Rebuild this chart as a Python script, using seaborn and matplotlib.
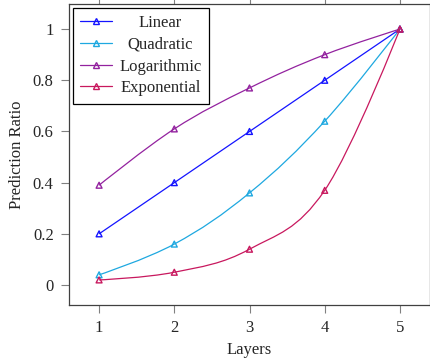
import numpy as np
import pandas as pd
import seaborn as sns
import matplotlib.pyplot as plt
from matplotlib.path import Path
from matplotlib.patches import PathPatch
from matplotlib.lines import Line2D

layers = [1, 2, 3, 4, 5]
linear = [0.2, 0.4, 0.6, 0.8, 1.0]
quadratic = [0.04, 0.16, 0.36, 0.64, 1.0]
logarithmic = [0.39, 0.61, 0.77, 0.90, 1.0]
exponential = [0.02, 0.05, 0.14, 0.37, 1.0]
names = ["Linear", "Quadratic", "Logarithmic", "Exponential"]
colors = ["#1414FF", "#1EA8E0", "#93229F", "#C8185E"]

df = pd.DataFrame({
    "Layers": layers * 4,
    "ratio": linear + quadratic + logarithmic + exponential,
    "curve": [n for n in names for _ in layers],
})

sns.set_style("ticks")
plt.rcParams["font.family"] = ["Liberation Serif", "DejaVu Serif"]

fig = plt.figure(figsize=(4.3, 3.58), dpi=100)
ax = fig.add_axes([69 / 430, 1 - 305 / 358, 361 / 430, 301 / 358])
ax.set_xlim(0.6, 5.4)
ax.set_ylim(-0.078, 1.098)


def smooth_path(xs, ys, tension=0.55):
    # pgfplots-like "smooth" curve, built in display space
    pts = ax.transData.transform(np.column_stack([xs, ys]))
    k = tension / 3
    verts = [pts[0]]
    codes = [Path.MOVETO]
    n = len(pts)
    for i in range(n - 1):
        p0 = pts[i]
        p1 = pts[i + 1]
        c1 = p0 if i == 0 else p0 + k * (pts[i + 1] - pts[i - 1])
        c2 = p1 if i == n - 2 else p1 - k * (pts[i + 2] - pts[i])
        verts += [c1, c2, p1]
        codes += [Path.CURVE4] * 3
    return Path(verts, codes)


for name, c in zip(names, colors):
    sub = df[df["curve"] == name]
    ax.add_patch(PathPatch(smooth_path(sub["Layers"].values, sub["ratio"].values),
                           transform=None, facecolor="none", edgecolor=c, lw=0.9))

sns.scatterplot(data=df, x="Layers", y="ratio", hue="curve", palette=colors,
                marker="^", s=18, linewidth=1.0, legend=False, ax=ax, zorder=3)
for coll in ax.collections:
    coll.set_facecolor("none")
    coll.set_edgecolor([colors[names.index(n)] for n in df["curve"]])

ax.set_xticks(layers)
ax.set_yticks([0, 0.2, 0.4, 0.6, 0.8, 1])
ax.set_yticklabels(["0", "0.2", "0.4", "0.6", "0.8", "1"])
ax.tick_params(direction="out", length=6, width=0.8, color="0.5", labelsize=12,
               top=True, right=True, pad=5)
for s in ax.spines.values():
    s.set_color("0.25")
    s.set_linewidth(0.9)
ax.set_xlabel("Layers", fontsize=12, labelpad=4)
ax.set_ylabel("Prediction Ratio", fontsize=12, labelpad=6)

handles = [Line2D([], [], color=c, lw=0.9, marker="^", markersize=4.2,
                  markerfacecolor="none", markeredgewidth=1.0) for c in colors]
leg = ax.legend(handles, names, loc="upper left", fontsize=12, frameon=True,
                fancybox=False, edgecolor="black", framealpha=1, handlelength=1.9,
                labelspacing=0.34, borderaxespad=0.22, handletextpad=0.45,
                borderpad=0.45)
leg.get_frame().set_linewidth(0.9)

# center the legend labels like pgfplots does
fig.canvas.draw()
r = fig.canvas.get_renderer()
widths = [t.get_window_extent(r).width for t in leg.get_texts()]
for t, w in zip(leg.get_texts(), widths):
    t.set_x((max(widths) - w) / 2)

fig.savefig("out.png", dpi=100)
